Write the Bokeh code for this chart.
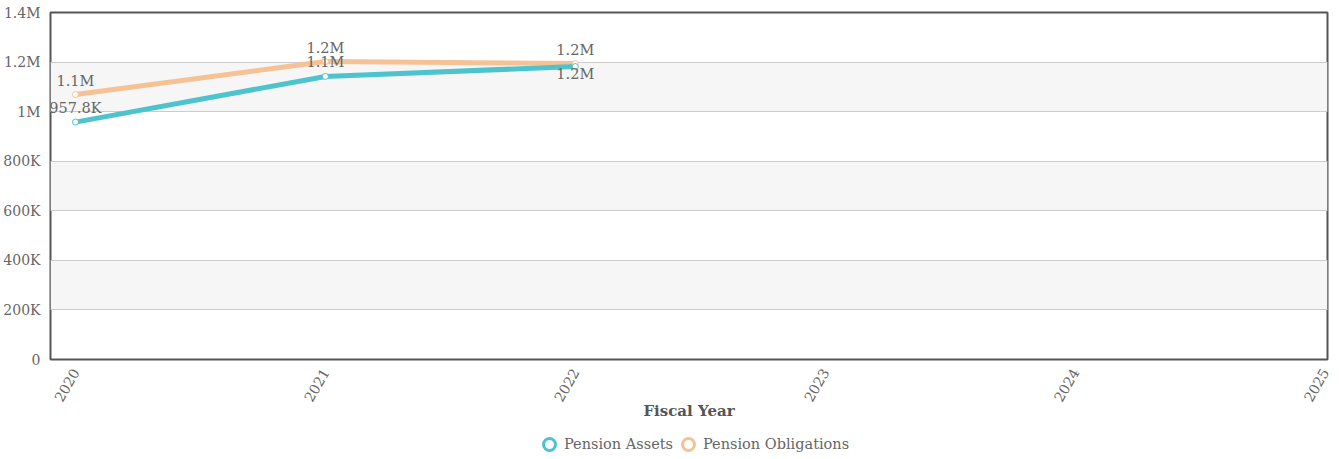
import math
from bokeh.plotting import figure
from bokeh.layouts import column
from bokeh.models import (FixedTicker, Range1d, Legend, LegendItem, ColumnDataSource)
from bokeh.core.properties import value
from bokeh.embed import file_html
from bokeh.resources import INLINE

years = [2020, 2021, 2022]
pension_assets = [957800, 1142000, 1182000]
pension_obligations = [1069000, 1202000, 1194000]
x_ticks = [2020, 2021, 2022, 2023, 2024, 2025]
y_ticks = [0, 200000, 400000, 600000, 800000, 1000000, 1200000, 1400000]
y_tick_labels = ["0", "200K", "400K", "600K", "800K", "1M", "1.2M", "1.4M"]
series_names = ["Pension Assets", "Pension Obligations"]

FONT = "DejaVu Serif"
TEAL = "#4dc4cd"
ORANGE = "#f5c295"
TXT = "#666666"


def fmt(v):
    if v >= 1e6:
        s = f"{v/1e6:.1f}".rstrip("0").rstrip(".")
        return s + "M"
    if v >= 1e3:
        s = f"{v/1e3:.1f}".rstrip("0").rstrip(".")
        return s + "K"
    return str(v)


p = figure(width=1341, height=429, output_backend="svg", toolbar_location=None,
           x_range=Range1d(2019.9, 2025.01), y_range=Range1d(0, 1400000),
           min_border_left=50, min_border_right=14, min_border_top=12,
           min_border_bottom=70)
p.background_fill_color = "white"
p.border_fill_color = "white"
p.outline_line_color = "#555555"
p.outline_line_width = 2

p.xgrid.grid_line_color = None
p.ygrid.grid_line_color = "#cccccc"
p.ygrid.band_fill_color = "#f6f6f6"
p.ygrid.band_fill_alpha = 1.0

p.yaxis.ticker = FixedTicker(ticks=y_ticks)
p.yaxis.major_label_overrides = {t: l for t, l in zip(y_ticks, y_tick_labels)}
p.xaxis.ticker = FixedTicker(ticks=x_ticks)
p.xaxis.major_label_orientation = math.pi / 3
for ax in (p.xaxis, p.yaxis):
    ax.axis_line_color = None
    ax.major_tick_line_color = None
    ax.minor_tick_line_color = None
    ax.major_label_text_font = FONT
    ax.major_label_text_font_size = "14px"
    ax.major_label_text_color = TXT
    ax.major_label_standoff = 4
p.xaxis.axis_label = "Fiscal Year"
p.xaxis.axis_label_text_font = FONT
p.xaxis.axis_label_text_font_style = "bold"
p.xaxis.axis_label_text_font_size = "15px"
p.xaxis.axis_label_text_color = "#555555"
p.xaxis.axis_label_standoff = -7

src_a = ColumnDataSource(dict(x=years, y=pension_assets, t=[fmt(v) for v in pension_assets]))
src_o = ColumnDataSource(dict(x=years, y=pension_obligations, t=[fmt(v) for v in pension_obligations]))

p.line("x", "y", source=src_o, line_color=ORANGE, line_width=5)
p.line("x", "y", source=src_a, line_color=TEAL, line_width=5)
p.scatter("x", "y", source=src_o, size=6, fill_color="white", line_color=ORANGE, line_width=1)
p.scatter("x", "y", source=src_a, size=6, fill_color="white", line_color=TEAL, line_width=1)

LBL = "14.5px"
p.text("x", "y", text="t", source=src_o, text_align="center", text_baseline="bottom",
       y_offset=-6, text_font=value(FONT), text_font_size=LBL, text_color=TXT)
src_a_up = ColumnDataSource(dict(x=years[:2], y=pension_assets[:2], t=[fmt(v) for v in pension_assets[:2]]))
src_a_dn = ColumnDataSource(dict(x=years[2:], y=pension_assets[2:], t=[fmt(v) for v in pension_assets[2:]]))
p.text("x", "y", text="t", source=src_a_up, text_align="center", text_baseline="bottom",
       y_offset=-6, text_font=value(FONT), text_font_size=LBL, text_color=TXT)
p.text("x", "y", text="t", source=src_a_dn, text_align="center", text_baseline="top",
       y_offset=-1, text_font=value(FONT), text_font_size=LBL, text_color=TXT)

# legend strip
q = figure(width=1341, height=30, output_backend="svg", toolbar_location=None,
           x_range=Range1d(0, 1), y_range=Range1d(0, 1),
           min_border_left=0, min_border_right=0, min_border_top=0, min_border_bottom=0)
q.axis.visible = False
q.grid.visible = False
q.outline_line_color = None
q.background_fill_color = "white"
q.border_fill_color = "white"
ra = q.scatter([-5], [-5], size=14, fill_color="white", line_color=TEAL, line_width=3)
ro = q.scatter([-5], [-5], size=14, fill_color="white", line_color=ORANGE, line_width=3)
legend = Legend(items=[LegendItem(label=series_names[0], renderers=[ra]),
                       LegendItem(label=series_names[1], renderers=[ro])],
                orientation="horizontal", location=(484, 0),
                label_text_font=FONT, label_text_font_size="14.5px", label_text_color=TXT,
                border_line_color=None, background_fill_alpha=0,
                glyph_width=30, glyph_height=30, spacing=0, label_standoff=0,
                label_height=30, padding=0, margin=0)
q.add_layout(legend, "center")

layout = column(p, q, spacing=0)
open("out.html", "w").write(file_html(layout, INLINE))
